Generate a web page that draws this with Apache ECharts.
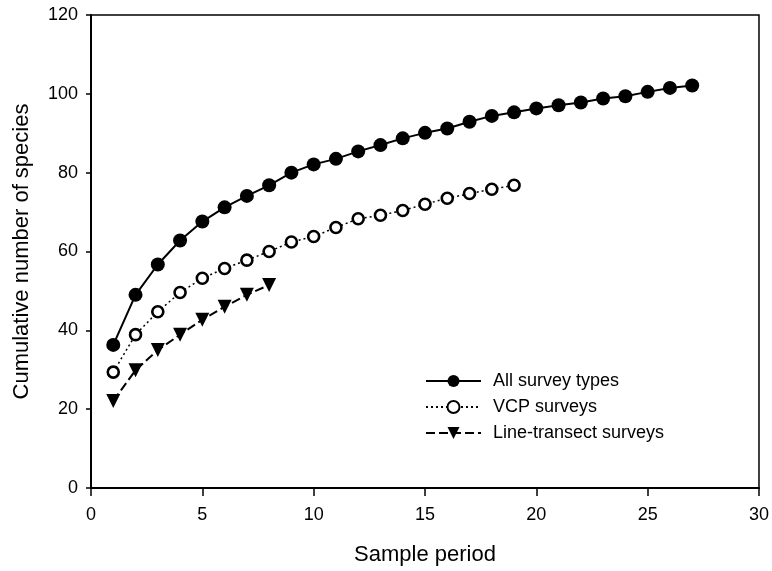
<!DOCTYPE html>
<html>
<head>
<meta charset="utf-8">
<script src="https://cdn.jsdelivr.net/npm/echarts@6/dist/echarts.min.js"></script>
<style>
  html, body { margin: 0; padding: 0; background: #fff; }
  #chart { width: 772px; height: 571px; }
</style>
</head>
<body>
<div id="chart"></div>
<script>
// values
const allSurveys = [36.3, 49, 56.7, 62.8, 67.6, 71.2, 74.1, 76.8, 80, 82.1, 83.5, 85.4, 87, 88.7,
  90.1, 91.2, 92.9, 94.4, 95.3, 96.3, 97.1, 97.8, 98.8, 99.4, 100.5, 101.5, 102.1];
const vcpSurveys = [29.4, 38.9, 44.7, 49.6, 53.2, 55.7, 57.8, 60.0, 62.4, 63.8, 66.1, 68.3, 69.2,
  70.4, 72.0, 73.5, 74.7, 75.8, 76.8];
const lineTransect = [22.1, 29.9, 35.0, 38.9, 42.7, 46.0, 49.0, 51.5];
const seriesNames = ["All survey types", "VCP surveys", "Line-transect surveys"];

const toPoints = (arr) => arr.map((v, i) => [i + 1, v]);
const font = "Liberation Sans, Arial, sans-serif";

const chart = echarts.init(document.getElementById("chart"));
chart.setOption({
  animation: false,
  textStyle: { fontFamily: font, color: "#000" },
  grid: {
    left: 91, right: 10, top: 15, bottom: 79,
    show: true, borderColor: "#000", borderWidth: 1.5
  },
  legend: {
    orient: "vertical",
    left: 425,
    top: 372,
    padding: 0,
    itemWidth: 55,
    itemHeight: 15,
    itemGap: 8,
    textStyle: { fontSize: 18, color: "#000", fontFamily: font, padding: [0, 0, 0, 7] },
    data: seriesNames
  },
  xAxis: {
    type: "value",
    min: 0, max: 30, interval: 5,
    name: "Sample period",
    nameLocation: "middle",
    nameGap: 56,
    nameTextStyle: { fontSize: 22, color: "#000", fontFamily: font },
    axisLine: { show: true, onZero: false, lineStyle: { color: "#000", width: 2 } },
    axisTick: { show: true, length: 8, lineStyle: { color: "#000", width: 1.5 } },
    axisLabel: { fontSize: 18, color: "#000", margin: 18, fontFamily: font },
    splitLine: { show: false }
  },
  yAxis: {
    type: "value",
    min: 0, max: 120, interval: 20,
    name: "Cumulative number of species",
    nameLocation: "middle",
    nameGap: 58,
    nameTextStyle: { fontSize: 22, color: "#000", fontFamily: font },
    axisLine: { show: true, lineStyle: { color: "#000", width: 2 } },
    axisTick: { show: true, length: 5, lineStyle: { color: "#000", width: 1.5 } },
    axisLabel: { fontSize: 18, color: "#000", margin: 13, fontFamily: font },
    splitLine: { show: false }
  },
  series: [
    {
      name: seriesNames[0],
      type: "line",
      data: toPoints(allSurveys),
      symbol: "circle",
      symbolSize: 14,
      itemStyle: { color: "#000" },
      lineStyle: { color: "#000", width: 2, type: "solid" },
      z: 3
    },
    {
      name: seriesNames[1],
      type: "line",
      data: toPoints(vcpSurveys),
      symbol: "circle",
      symbolSize: 11,
      itemStyle: { color: "#fff", borderColor: "#000", borderWidth: 2.6 },
      lineStyle: { color: "#000", width: 1.5, type: [2, 3] },
      z: 2
    },
    {
      name: seriesNames[2],
      type: "line",
      data: toPoints(lineTransect),
      symbol: "triangle",
      symbolRotate: 180,
      symbolSize: 14,
      itemStyle: { color: "#000" },
      lineStyle: { color: "#000", width: 2, type: [9, 4] },
      z: 2
    }
  ]
});
</script>
</body>
</html>
